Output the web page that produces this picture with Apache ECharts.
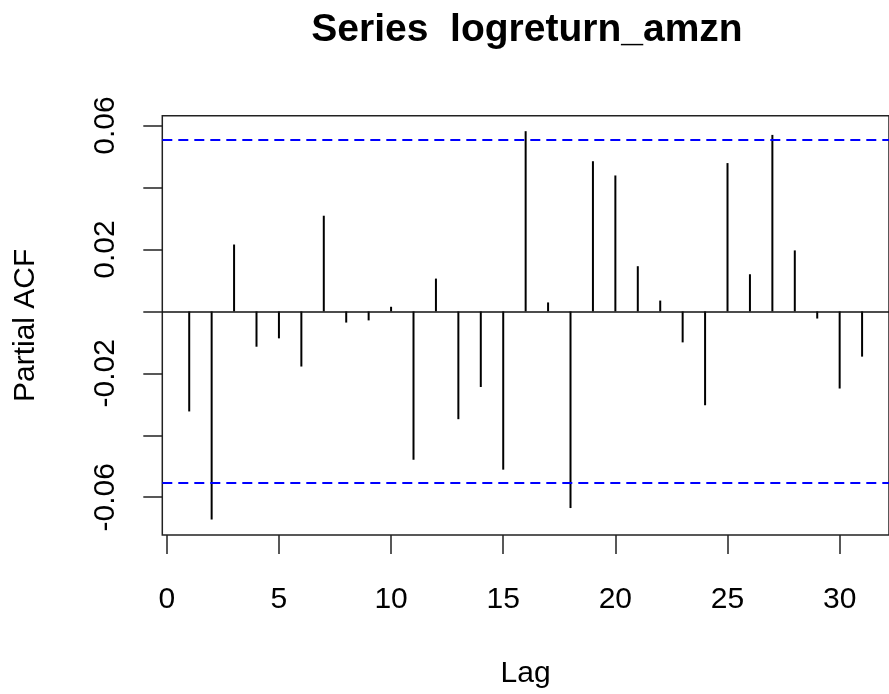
<!DOCTYPE html>
<html>
<head>
<meta charset="utf-8">
<script src="https://cdn.jsdelivr.net/npm/echarts@6/dist/echarts.min.js"></script>
<style>
  html, body { margin: 0; padding: 0; background: #fff; }
  #chart { width: 889px; height: 694px; }
</style>
</head>
<body>
<div id="chart"></div>
<script>
// 数据: 偏自相关 (PACF) 各滞后阶
var lags = [1, 2, 3, 4, 5, 6, 7, 8, 9, 10, 11, 12, 13, 14, 15, 16,
            17, 18, 19, 20, 21, 22, 23, 24, 25, 26, 27, 28, 29, 30, 31];
var pacfValues = [-0.0323, -0.0672, 0.0216, -0.0114, -0.0087, -0.0178, 0.0309, -0.0036,
                  -0.0029, 0.0015, -0.0479, 0.0106, -0.0348, -0.0244, -0.0511, 0.0582,
                  0.0029, -0.0635, 0.0485, 0.0439, 0.0146, 0.0035, -0.0100, -0.0303,
                  0.0479, 0.0120, 0.0570, 0.0197, -0.0023, -0.0249, -0.0146];
var ciLimit = 0.0553;

var xTicks = [0, 5, 10, 15, 20, 25, 30];
var yTicks = [-0.06, -0.04, -0.02, 0, 0.02, 0.04, 0.06];
var yLabels = [-0.06, -0.02, 0.02, 0.06];

var font = 'Liberation Sans, Arial, sans-serif';

var chart = echarts.init(document.getElementById('chart'));

var seriesData = [];
for (var i = 0; i < lags.length; i++) {
    seriesData.push([lags[i], pacfValues[i]]);
}

var option = {
    animation: false,
    title: {
        text: 'Series  logreturn_amzn',
        left: 522,
        top: 6,
        textAlign: 'center',
        textStyle: {
            fontFamily: font,
            fontSize: 39,
            fontWeight: 'bold',
            color: '#000'
        }
    },
    grid: {
        left: 162.3,
        top: 115.7,
        width: 732,
        height: 421.3,
        show: true,
        borderColor: '#222',
        borderWidth: 1.5,
        backgroundColor: 'transparent'
    },
    xAxis: {
        type: 'value',
        min: -0.2,
        max: 32.2,
        name: 'Lag',
        nameLocation: 'middle',
        nameGap: 124,
        nameTextStyle: { fontFamily: font, fontSize: 30, color: '#000' },
        splitLine: { show: false },
        axisLine: { show: false, onZero: false },
        axisTick: {
            show: true,
            length: 19,
            customValues: xTicks,
            lineStyle: { color: '#222', width: 1.5 }
        },
        axisLabel: {
            customValues: xTicks,
            margin: 50,
            fontFamily: font,
            fontSize: 30,
            color: '#000'
        }
    },
    yAxis: {
        type: 'value',
        min: -0.0722,
        max: 0.0632,
        name: 'Partial ACF',
        nameLocation: 'middle',
        nameGap: 122,
        nameTextStyle: { fontFamily: font, fontSize: 30, color: '#000' },
        splitLine: { show: false },
        axisLine: { show: false, onZero: false },
        axisTick: {
            show: true,
            length: 19,
            customValues: yTicks,
            lineStyle: { color: '#222', width: 1.5 }
        },
        axisLabel: {
            customValues: yLabels,
            rotate: 90,
            margin: 42,
            fontFamily: font,
            fontSize: 30,
            color: '#000',
            formatter: function(v) {
                return String(Math.round(v * 100) / 100);
            }
        }
    },
    series: [{
        type: 'bar',
        data: seriesData,
        barWidth: 2,
        itemStyle: { color: '#000' },
        silent: true,
        markLine: {
            silent: true,
            symbol: 'none',
            precision: 4,
            label: { show: false },
            data: [
                { yAxis: 0, lineStyle: { color: '#111', width: 1.5, type: 'solid' } },
                { yAxis: ciLimit, lineStyle: { color: '#0000ff', width: 2, type: [10, 6] } },
                { yAxis: -ciLimit, lineStyle: { color: '#0000ff', width: 2, type: [10, 6] } }
            ]
        }
    }]
};

chart.setOption(option);
</script>
</body>
</html>
